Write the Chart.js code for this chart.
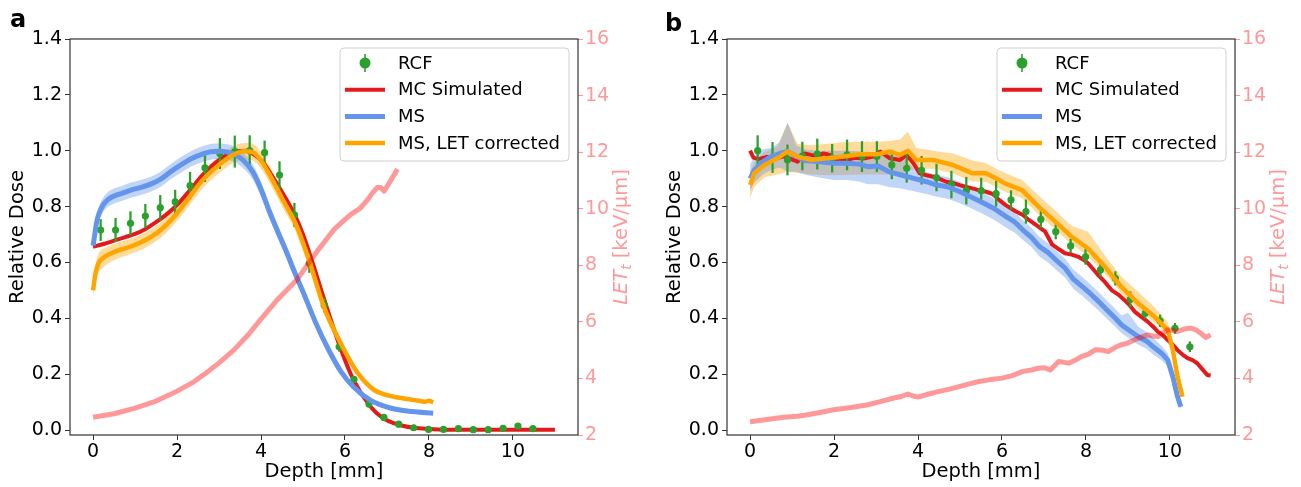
<!DOCTYPE html>
<html>
<head>
<meta charset="utf-8">
<script src="https://cdn.jsdelivr.net/npm/chart.js@4.4.1/dist/chart.umd.min.js"></script>
<style>
  html,body{margin:0;padding:0;background:#fff;}
  .panel{position:absolute;top:0;height:487px;}
  #pa{left:0;width:650px;}
  #pb{left:650px;width:651px;}
</style>
</head>
<body>
<div class="panel" id="pa"><canvas id="ca"></canvas></div>
<div class="panel" id="pb"><canvas id="cb"></canvas></div>
<script>
// ---------------- DATA ----------------
const SERIES_NAMES = ['RCF', 'MC Simulated', 'MS', 'MS, LET corrected'];
const X_TICKS = [0, 2, 4, 6, 8, 10];
const DOSE_TICKS = [0.0, 0.2, 0.4, 0.6, 0.8, 1.0, 1.2, 1.4];
const LET_TICKS = [2, 4, 6, 8, 10, 12, 14, 16];
const X_LABEL = 'Depth [mm]';
const Y_LABEL = 'Relative Dose';

// RCF depths (shared by both panels)
const RCF_X = [0.18,0.535,0.89,1.245,1.6,1.955,2.31,2.665,3.02,3.375,3.73,4.085,4.44,4.795,5.15,5.505,5.86,6.215,6.57,6.925,7.28,7.635,7.99,8.345,8.70,9.055,9.41,9.765,10.12,10.475];

// ---- panel a ----
const A_RCF_Y = [0.716,0.716,0.740,0.766,0.796,0.817,0.875,0.939,0.990,0.997,1.000,0.993,0.913,0.770,0.597,0.447,0.298,0.181,0.093,0.045,0.021,0.008,0.002,0.002,0.005,0.001,0.001,0.006,0.014,0.005];
const A_RCF_ERR = [0.038,0.042,0.042,0.042,0.044,0.042,0.048,0.050,0.054,0.056,0.054,0.042,0.048,0.042,0.033,0.025,0.016,0.010,0.005,0.003,0.001,0,0,0,0,0,0,0,0.001,0];

const A_MC_X = [0,0.25,0.5,0.75,1.0,1.25,1.5,1.75,2.0,2.3,2.6,2.9,3.2,3.45,3.65,3.85,4.05,4.25,4.5,4.8,5.0,5.2,5.5,5.9,6.2,6.6,6.9,7.3,7.7,8.1,8.6,9.5,10.5,11.0];
const A_MC_Y = [0.656,0.666,0.678,0.690,0.702,0.720,0.744,0.772,0.806,0.857,0.912,0.955,0.985,0.998,1.000,0.985,0.958,0.913,0.852,0.771,0.700,0.612,0.470,0.290,0.180,0.085,0.043,0.018,0.007,0.003,0.001,0.001,0.001,0.001];

const A_MS_X = [0,0.04,0.08,0.14,0.24,0.36,0.5,0.7,0.9,1.15,1.4,1.6,1.85,2.1,2.35,2.6,2.8,3.0,3.2,3.4,3.6,3.8,4.0,4.2,4.4,4.6,4.8,5.0,5.3,5.6,5.9,6.2,6.6,7.1,7.6,8.1];
const A_MS_Y = [0.660,0.700,0.740,0.775,0.806,0.826,0.838,0.848,0.859,0.869,0.882,0.897,0.925,0.950,0.972,0.988,0.996,0.998,0.995,0.985,0.962,0.925,0.862,0.782,0.710,0.640,0.565,0.495,0.385,0.290,0.210,0.155,0.107,0.078,0.066,0.060];
const A_MS_ERR = [0.020,0.022,0.024,0.025,0.026,0.027,0.027,0.027,0.027,0.027,0.027,0.027,0.027,0.028,0.028,0.028,0.028,0.028,0.028,0.028,0.028,0.027,0.026,0.025,0.024,0.022,0.020,0.018,0.015,0.012,0.009,0.007,0.005,0.004,0.003,0.003];

const A_LC_X = [0,0.04,0.08,0.14,0.25,0.4,0.6,0.8,1.0,1.25,1.5,1.75,2.0,2.3,2.6,2.95,3.3,3.6,3.8,4.0,4.2,4.5,4.85,5.15,5.5,5.9,6.3,6.7,7.0,7.2,7.4,7.65,7.8,7.9,8.0,8.1];
const A_LC_Y = [0.500,0.545,0.575,0.600,0.617,0.630,0.643,0.652,0.663,0.680,0.703,0.735,0.776,0.835,0.893,0.943,0.982,0.998,0.995,0.965,0.915,0.830,0.730,0.605,0.440,0.310,0.205,0.143,0.125,0.118,0.113,0.107,0.104,0.101,0.105,0.099];
const A_LC_ERR = [0.020,0.030,0.035,0.035,0.033,0.030,0.028,0.027,0.027,0.027,0.027,0.028,0.028,0.029,0.030,0.030,0.030,0.030,0.030,0.030,0.030,0.029,0.028,0.026,0.022,0.018,0.014,0.010,0.008,0.007,0.006,0.006,0.006,0.006,0.006,0.006];

const A_LET_X = [0,0.5,1.0,1.5,2.0,2.4,2.7,3.0,3.35,3.7,4.0,4.4,4.86,5.1,5.34,5.55,5.74,5.95,6.14,6.35,6.53,6.65,6.77,6.85,6.93,7.05,7.15,7.25];
const A_LET_Y = [2.63,2.75,2.95,3.20,3.55,3.88,4.20,4.55,5.00,5.55,6.10,6.80,7.50,8.00,8.50,8.90,9.27,9.55,9.80,10.00,10.30,10.55,10.75,10.75,10.62,10.90,11.15,11.40];

// ---- panel b ----
const B_RCF_Y = [1.000,0.976,0.967,0.981,0.988,0.973,0.985,0.979,0.979,0.949,0.937,0.930,0.904,0.879,0.857,0.857,0.846,0.824,0.782,0.754,0.710,0.659,0.620,0.573,0.543,0.468,0.418,0.391,0.364,0.298];
const B_RCF_ERR = [0.054,0.054,0.054,0.050,0.054,0.050,0.054,0.054,0.054,0.050,0.050,0.050,0.048,0.048,0.048,0.045,0.045,0.033,0.042,0.030,0.026,0.024,0.027,0.024,0.024,0.027,0.018,0.021,0.018,0.018];

const B_MC_X = [0,0.08,0.2,0.4,0.6,0.8,0.95,1.13,1.3,1.45,1.6,1.75,1.9,2.07,2.3,2.5,2.7,2.94,3.1,3.33,3.57,3.73,3.89,4.04,4.2,4.36,4.5,4.67,4.83,4.99,5.15,5.3,5.46,5.62,5.78,5.93,6.08,6.3,6.5,6.64,6.85,7.03,7.19,7.35,7.5,7.66,7.82,7.94,8.05,8.29,8.45,8.61,8.77,8.92,9.05,9.16,9.32,9.47,9.6,9.71,9.83,9.95,10.07,10.18,10.3,10.42,10.54,10.65,10.77,10.89,10.97];
const B_MC_Y = [1.000,0.975,0.970,0.978,0.972,0.980,0.972,0.961,0.990,0.985,0.982,0.990,0.985,0.967,0.967,0.975,0.972,0.979,0.997,0.973,0.967,0.985,0.955,0.919,0.912,0.907,0.900,0.889,0.885,0.877,0.870,0.865,0.858,0.853,0.845,0.824,0.806,0.785,0.770,0.752,0.730,0.710,0.665,0.648,0.633,0.628,0.620,0.610,0.597,0.555,0.530,0.501,0.485,0.465,0.445,0.424,0.405,0.388,0.370,0.352,0.340,0.322,0.305,0.286,0.270,0.257,0.250,0.239,0.218,0.197,0.195];

const B_MS_X = [0,0.1,0.3,0.5,0.7,0.9,1.1,1.3,1.6,2.0,2.3,2.6,2.8,3.05,3.3,3.6,3.9,4.2,4.45,4.7,5.0,5.25,5.5,5.8,6.1,6.3,6.5,6.7,6.9,7.1,7.3,7.5,7.7,7.9,8.1,8.3,8.5,8.7,8.85,9.0,9.25,9.45,9.6,9.8,9.95,10.07,10.18,10.26];
const B_MS_Y = [0.900,0.930,0.960,0.979,0.990,0.997,0.980,0.965,0.961,0.955,0.955,0.952,0.943,0.945,0.925,0.913,0.901,0.889,0.877,0.871,0.853,0.835,0.817,0.794,0.764,0.745,0.716,0.690,0.656,0.635,0.607,0.580,0.540,0.515,0.489,0.460,0.430,0.400,0.376,0.360,0.334,0.318,0.298,0.275,0.250,0.190,0.120,0.083];
const B_MS_HI = [0.950,0.980,1.005,1.010,1.030,1.100,1.020,1.005,1.000,1.000,1.000,0.998,0.995,0.995,0.990,0.985,0.936,0.924,0.912,0.906,0.888,0.870,0.852,0.829,0.799,0.780,0.750,0.724,0.690,0.669,0.641,0.614,0.575,0.550,0.523,0.494,0.464,0.433,0.410,0.420,0.370,0.350,0.330,0.302,0.275,0.210,0.135,0.095];
const B_MS_LO = [0.855,0.885,0.915,0.930,0.940,0.925,0.925,0.915,0.905,0.895,0.895,0.890,0.880,0.880,0.870,0.865,0.855,0.845,0.835,0.828,0.812,0.795,0.777,0.754,0.724,0.707,0.680,0.655,0.620,0.600,0.572,0.546,0.506,0.482,0.456,0.428,0.398,0.370,0.346,0.330,0.305,0.290,0.270,0.250,0.228,0.170,0.105,0.072];

const B_LC_X = [0,0.1,0.34,0.65,0.89,1.13,1.44,1.84,2.23,2.62,3.02,3.33,3.57,3.76,3.96,4.36,4.83,5.3,5.62,5.93,6.08,6.48,6.87,7.27,7.66,8.05,8.45,8.84,9.24,9.63,9.95,10.07,10.18,10.3];
const B_LC_Y = [0.877,0.919,0.949,0.973,0.997,0.979,0.967,0.973,0.979,0.987,0.987,0.997,0.985,1.000,0.967,0.967,0.949,0.919,0.919,0.895,0.882,0.859,0.800,0.746,0.692,0.650,0.585,0.513,0.454,0.406,0.358,0.286,0.191,0.119];
const B_LC_HI = [0.925,0.960,0.995,1.015,1.100,1.025,1.020,1.025,1.030,1.032,1.032,1.035,1.040,1.068,1.010,1.000,0.990,0.965,0.955,0.930,0.920,0.895,0.840,0.785,0.730,0.710,0.625,0.550,0.495,0.440,0.385,0.305,0.205,0.125];
const B_LC_LO = [0.830,0.870,0.905,0.915,0.925,0.920,0.915,0.912,0.913,0.915,0.915,0.915,0.910,0.930,0.935,0.935,0.918,0.890,0.888,0.865,0.852,0.830,0.772,0.718,0.665,0.622,0.560,0.490,0.432,0.385,0.340,0.270,0.180,0.112];

const B_LET_X = [0,0.4,0.8,1.12,1.3,1.6,1.99,2.4,2.78,3.1,3.4,3.6,3.76,3.88,4.0,4.25,4.51,4.75,4.98,5.2,5.45,5.69,6.0,6.25,6.48,6.7,6.87,7.0,7.15,7.35,7.59,7.75,7.9,8.05,8.22,8.4,8.53,8.7,8.84,9.0,9.16,9.3,9.47,9.6,9.71,9.85,9.95,10.05,10.18,10.35,10.5,10.62,10.73,10.85,10.97];
const B_LET_Y = [2.47,2.55,2.63,2.66,2.70,2.78,2.89,2.97,3.06,3.18,3.30,3.36,3.45,3.38,3.34,3.45,3.54,3.62,3.71,3.80,3.89,3.95,4.01,4.10,4.24,4.30,4.36,4.38,4.30,4.60,4.54,4.65,4.78,4.85,5.01,5.00,4.95,5.10,5.19,5.25,5.37,5.45,5.54,5.50,5.48,5.62,5.72,5.70,5.66,5.75,5.78,5.72,5.60,5.45,5.54];

// ---------------- STYLE ----------------
const FONT = "'DejaVu Sans', sans-serif";
const C_RED = '#e31a1c', C_BLUE = '#6495ed', C_ORANGE = '#ffa500', C_GREEN = '#2ca02c';
const C_LET = 'rgba(255,0,0,0.4)', C_PINK = '#ff9999', C_AX = '#333333';
const TICK_SIZE = 19, LABEL_SIZE = 19.5, LEGEND_SIZE = 18;
Chart.defaults.font.family = FONT;

const pts = (xs, ys) => xs.map((x, i) => ({x, y: ys[i]}));
const ptsOff = (xs, ys, es, s) => xs.map((x, i) => ({x, y: ys[i] + s * es[i]}));

const framePlugin = {
  id: 'frame',
  afterDraw(chart, args, o) {
    const {ctx, chartArea: a} = chart;
    ctx.save();
    ctx.strokeStyle = C_AX; ctx.lineWidth = 1.2;
    ctx.strokeRect(a.left, a.top, a.right - a.left, a.bottom - a.top);
    // panel label
    ctx.fillStyle = '#000';
    ctx.font = 'bold 24px ' + FONT;
    ctx.textBaseline = 'alphabetic';
    ctx.fillText(o.label, o.lx, o.ly);
    // right axis title: LET_t [keV/um]
    const cx = a.right + 44, cy = (a.top + a.bottom) / 2;
    ctx.translate(cx, cy); ctx.rotate(-Math.PI / 2);
    ctx.fillStyle = C_PINK; ctx.textBaseline = 'middle';
    const f1 = 'italic ' + LABEL_SIZE + 'px ' + FONT, f2 = 'italic 13.5px ' + FONT, f3 = LABEL_SIZE + 'px ' + FONT;
    const t1 = 'LET', t2 = 't', t3 = ' [keV/\u03bcm]';
    ctx.font = f1; const w1 = ctx.measureText(t1).width;
    ctx.font = f2; const w2 = ctx.measureText(t2).width;
    ctx.font = f3; const w3 = ctx.measureText(t3).width;
    let sx = -(w1 + w2 + w3) / 2;
    ctx.font = f1; ctx.fillText(t1, sx, 0);
    ctx.font = f2; ctx.fillText(t2, sx + w1, 5);
    ctx.font = f3; ctx.fillText(t3, sx + w1 + w2, 0);
    ctx.restore();
    // legend
    ctx.save();
    const W = 229, H = 113;
    const x0 = a.right - 9 - W, y0 = a.top + 9;
    ctx.beginPath();
    ctx.roundRect(x0, y0, W, H, 4);
    ctx.fillStyle = 'rgba(255,255,255,0.8)'; ctx.fill();
    ctx.strokeStyle = '#d0d0d0'; ctx.lineWidth = 1; ctx.stroke();
    const colors = [C_GREEN, C_RED, C_BLUE, C_ORANGE];
    const widths = [0, 4, 5, 4.5];
    ctx.font = LEGEND_SIZE + 'px ' + FONT; ctx.textBaseline = 'middle';
    SERIES_NAMES.forEach((name, i) => {
      const yc = y0 + 15 + i * 26.7;
      if (i === 0) {
        ctx.strokeStyle = C_GREEN; ctx.lineWidth = 1.6;
        ctx.beginPath(); ctx.moveTo(x0 + 25, yc - 9); ctx.lineTo(x0 + 25, yc + 9); ctx.stroke();
        ctx.fillStyle = C_GREEN; ctx.beginPath(); ctx.arc(x0 + 25, yc, 5.5, 0, Math.PI * 2); ctx.fill();
      } else {
        ctx.strokeStyle = colors[i]; ctx.lineWidth = widths[i];
        ctx.beginPath(); ctx.moveTo(x0 + 5, yc); ctx.lineTo(x0 + 45, yc); ctx.stroke();
      }
      ctx.fillStyle = '#000';
      ctx.fillText(name, x0 + 58, yc + 1);
    });
    ctx.restore();
  }
};

function build(canvasId, P) {
  const smooth = P.smooth ? {cubicInterpolationMode: 'monotone'} : {tension: 0};
  const band = (data, color, order) => Object.assign({
    type: 'line', data, borderColor: 'transparent', borderWidth: 0, pointRadius: 0,
    backgroundColor: color, order, yAxisID: 'y'
  }, smooth);
  const line = (data, color, w, order, axis) => Object.assign({
    type: 'line', data, borderColor: color, borderWidth: w, pointRadius: 0, fill: false,
    order, yAxisID: axis || 'y', borderCapStyle: 'butt', borderJoinStyle: 'round'
  }, axis === 'y2' ? {tension: 0} : smooth);

  const datasets = [
    Object.assign(band(P.msHi, 'rgba(100,149,237,0.4)', 8), {fill: '+1'}),
    Object.assign(band(P.msLo, 'transparent', 8), {fill: false}),
    Object.assign(band(P.lcHi, 'rgba(255,165,0,0.4)', 9), {fill: '+1'}),
    Object.assign(band(P.lcLo, 'transparent', 9), {fill: false}),
    line(P.mc, C_RED, 4, 7),
    {type: 'bar', data: P.rcfBars, backgroundColor: C_GREEN, borderWidth: 0, barThickness: 1.6,
     grouped: false, order: 6, yAxisID: 'y'},
    {type: 'line', data: P.rcf, showLine: false, pointRadius: 3.6, pointBackgroundColor: C_GREEN,
     pointBorderWidth: 0, pointBorderColor: C_GREEN, order: 5, yAxisID: 'y'},
    line(P.ms, C_BLUE, 5, 4),
    line(P.lc, C_ORANGE, 4.5, 3),
    line(P.let, C_LET, 5, 1, 'y2')
  ];

  const tickFont = {family: FONT, size: TICK_SIZE};
  return new Chart(document.getElementById(canvasId), {
    type: 'line',
    data: {datasets},
    plugins: [framePlugin],
    options: {
      responsive: true, maintainAspectRatio: false, animation: false, events: [],
      layout: {padding: {top: 39, left: 0, right: 0, bottom: 0}},
      plugins: {legend: {display: false}, tooltip: {enabled: false},
                frame: {label: P.label, lx: P.lx, ly: P.ly}},
      scales: {
        x: {
          type: 'linear', min: -0.55, max: 11.55, offset: false,
          afterBuildTicks: s => { s.ticks = X_TICKS.map(v => ({value: v})); },
          ticks: {color: '#000', font: tickFont, padding: 1, callback: v => String(v), maxRotation: 0},
          grid: {display: true, drawOnChartArea: false, drawTicks: true, tickLength: 5, tickColor: C_AX, offset: false},
          border: {display: false},
          title: {display: true, text: X_LABEL, color: '#000', font: {family: FONT, size: LABEL_SIZE}, padding: {top: 0, bottom: 3}},
          afterFit: s => { s.height = 52; }
        },
        y: {
          type: 'linear', position: 'left', min: -0.0179, max: 1.4, beginAtZero: false,
          afterBuildTicks: s => { s.ticks = DOSE_TICKS.map(v => ({value: v})); },
          ticks: {color: '#000', font: tickFont, padding: 3, callback: v => Number(v).toFixed(1)},
          grid: {display: true, drawOnChartArea: false, drawTicks: true, tickLength: 5, tickColor: C_AX},
          border: {display: false},
          title: {display: true, text: Y_LABEL, color: '#000', font: {family: FONT, size: LABEL_SIZE}, padding: {top: P.ytp, bottom: 0}},
          afterFit: s => { s.width = P.leftW; }
        },
        y2: {
          type: 'linear', position: 'right', min: 2, max: 16,
          afterBuildTicks: s => { s.ticks = LET_TICKS.map(v => ({value: v})); },
          ticks: {color: C_PINK, font: tickFont, padding: 2, callback: v => String(v)},
          grid: {display: true, drawOnChartArea: false, drawTicks: true, tickLength: 5, tickColor: C_PINK},
          border: {display: false},
          afterFit: s => { s.width = P.rightW; }
        }
      }
    }
  });
}

const bars = (ys, es) => RCF_X.map((x, i) => ({x, y: [ys[i] - es[i], ys[i] + es[i]]}));

build('ca', {
  label: 'a', lx: 10, ly: 27, smooth: true, leftW: 70, rightW: 72, ytp: 6.5,
  rcf: pts(RCF_X, A_RCF_Y), rcfBars: bars(A_RCF_Y, A_RCF_ERR),
  mc: pts(A_MC_X, A_MC_Y),
  ms: pts(A_MS_X, A_MS_Y), msHi: ptsOff(A_MS_X, A_MS_Y, A_MS_ERR, 1), msLo: ptsOff(A_MS_X, A_MS_Y, A_MS_ERR, -1),
  lc: pts(A_LC_X, A_LC_Y), lcHi: ptsOff(A_LC_X, A_LC_Y, A_LC_ERR, 1), lcLo: ptsOff(A_LC_X, A_LC_Y, A_LC_ERR, -1),
  let: pts(A_LET_X, A_LET_Y)
});
build('cb', {
  label: 'b', lx: 15, ly: 31, smooth: false, leftW: 77, rightW: 66, ytp: 13,
  rcf: pts(RCF_X, B_RCF_Y), rcfBars: bars(B_RCF_Y, B_RCF_ERR),
  mc: pts(B_MC_X, B_MC_Y),
  ms: pts(B_MS_X, B_MS_Y), msHi: pts(B_MS_X, B_MS_HI), msLo: pts(B_MS_X, B_MS_LO),
  lc: pts(B_LC_X, B_LC_Y), lcHi: pts(B_LC_X, B_LC_HI), lcLo: pts(B_LC_X, B_LC_LO),
  let: pts(B_LET_X, B_LET_Y)
});
</script>
</body>
</html>
